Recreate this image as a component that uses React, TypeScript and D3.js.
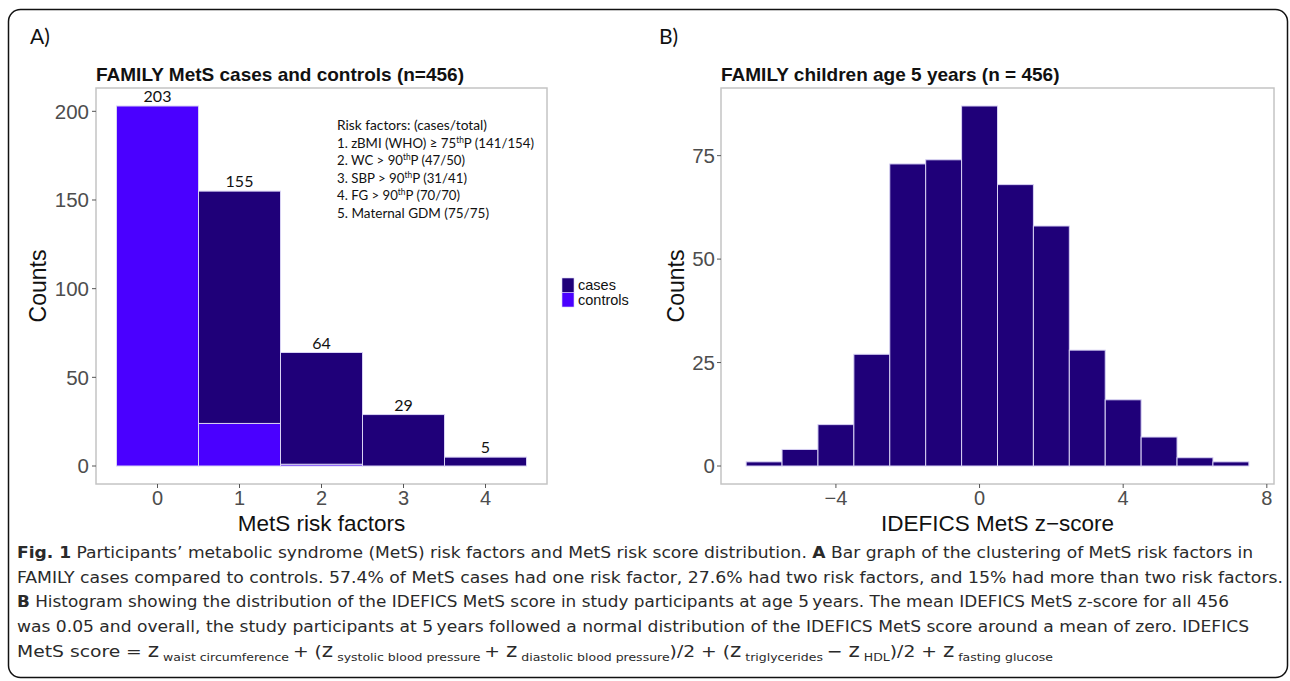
import React, { useEffect, useRef } from "react";
import * as d3 from "d3";

// panel A: MetS risk factor counts, stacked cases/controls
const riskFactors = [0, 1, 2, 3, 4];
const casesCounts = [0, 131, 63, 29, 5];
const controlsCounts = [203, 24, 1, 0, 0];
const riskTicks = [0, 1, 2, 3, 4];
const countTicksA = [0, 50, 100, 150, 200];

// panel B: histogram of IDEFICS MetS z-score, bins of width 1
const zBinCenters = [-6, -5, -4, -3, -2, -1, 0, 1, 2, 3, 4, 5, 6, 7];
const zCounts = [1, 4, 10, 27, 73, 74, 87, 68, 58, 28, 16, 7, 2, 1];
const zTicks = [-4, 0, 4, 8];
const countTicksB = [0, 25, 50, 75];

const riskLines = [
  ["Risk factors: (cases/total)", "", ""],
  ["1. zBMI (WHO) \u2265 75", "th", "P (141/154)"],
  ["2. WC > 90", "th", "P (47/50)"],
  ["3. SBP > 90", "th", "P (31/41)"],
  ["4. FG > 90", "th", "P (70/70)"],
  ["5. Maternal GDM (75/75)", "", ""],
];
const riskLineWidths = [150, 197, 128, 130, 123, 152];

const CASES = "#1f0079";
const CONTROLS = "#4a00ff";
const EDGE = "#d8d2f4";
const GRAYTXT = "#4d4d4d";
const BORDER = "#c4c4c4";

export default function App() {
  const ref = useRef<SVGSVGElement>(null);

  useEffect(() => {
    const svg = d3.select(ref.current);
    svg.selectAll("*").remove();

    // outer frame
    svg.append("rect").attr("x", 8.5).attr("y", 9.5).attr("width", 1279).attr("height", 668)
      .attr("rx", 12).attr("fill", "none").attr("stroke", "#111").attr("stroke-width", 1.5);

    svg.append("text").attr("x", 30).attr("y", 44).text("A)")
      .attr("font-family", "Lato, sans-serif").attr("font-size", 21).attr("fill", "#111");
    svg.append("text").attr("x", 659).attr("y", 44).text("B)")
      .attr("font-family", "Lato, sans-serif").attr("font-size", 21).attr("fill", "#111");

    const font = "'Liberation Sans', Arial, sans-serif";

    // ---------- panel A ----------
    const A = { left: 96, right: 547, top: 88, bottom: 484 };
    const xA = d3.scaleLinear().domain([-0.75, 4.75]).range([A.left, A.right]);
    const yA = d3.scaleLinear().domain([-10.15, 213.15]).range([A.bottom, A.top]);

    const tableA = riskFactors.map((r, i) => ({ r, cases: casesCounts[i], controls: controlsCounts[i] }));
    const stacked = d3.stack<any>().keys(["controls", "cases"])(tableA);

    const gA = svg.append("g");
    gA.append("rect").attr("x", A.left).attr("y", A.top).attr("width", A.right - A.left)
      .attr("height", A.bottom - A.top).attr("fill", "white");

    stacked.forEach(layer => {
      gA.selectAll(null).data(layer.filter(d => d[1] - d[0] > 0)).join("rect")
        .attr("x", d => xA(d.data.r - 0.5))
        .attr("width", d => xA(d.data.r + 0.5) - xA(d.data.r - 0.5))
        .attr("y", d => yA(d[1]))
        .attr("height", d => yA(d[0]) - yA(d[1]))
        .attr("fill", layer.key === "cases" ? CASES : CONTROLS)
        .attr("stroke", EDGE).attr("stroke-width", 1);
    });

    gA.selectAll(".bar-label").data(tableA).join("text").attr("class", "bar-label")
      .attr("x", d => xA(d.r)).attr("y", d => yA(d.cases + d.controls) - 4)
      .attr("text-anchor", "middle").attr("font-family", "Lato, sans-serif")
      .attr("font-size", 16).attr("fill", "#111")
      .text(d => d.cases + d.controls);

    gA.append("rect").attr("x", A.left).attr("y", A.top).attr("width", A.right - A.left)
      .attr("height", A.bottom - A.top).attr("fill", "none").attr("stroke", BORDER).attr("stroke-width", 1.5);

    const axA = gA.append("g");
    axA.selectAll(".yt").data(countTicksA).join("line").attr("class", "yt")
      .attr("x1", A.left - 4).attr("x2", A.left).attr("y1", d => yA(d)).attr("y2", d => yA(d))
      .attr("stroke", "#555");
    axA.selectAll(".yl").data(countTicksA).join("text").attr("class", "yl")
      .attr("x", A.left - 7).attr("y", d => yA(d)).attr("dy", "0.36em").attr("text-anchor", "end")
      .attr("font-family", font).attr("font-size", 20.5).attr("fill", GRAYTXT).text(d => d);
    axA.selectAll(".xt").data(riskTicks).join("line").attr("class", "xt")
      .attr("x1", d => xA(d)).attr("x2", d => xA(d)).attr("y1", A.bottom).attr("y2", A.bottom + 4)
      .attr("stroke", "#555");
    axA.selectAll(".xl").data(riskTicks).join("text").attr("class", "xl")
      .attr("x", d => xA(d)).attr("y", 505).attr("text-anchor", "middle")
      .attr("font-family", font).attr("font-size", 20).attr("fill", GRAYTXT).text(d => d);

    svg.append("text").attr("x", A.left).attr("y", 81).text("FAMILY MetS cases and controls (n=456)")
      .attr("font-family", font).attr("font-weight", "bold").attr("font-size", 19).attr("fill", "#111");
    svg.append("text").attr("x", (A.left + A.right) / 2).attr("y", 531).attr("text-anchor", "middle")
      .text("MetS risk factors").attr("font-family", font).attr("font-size", 22.5).attr("fill", "#111");
    svg.append("text").attr("transform", `translate(46, ${(A.top + A.bottom) / 2}) rotate(-90)`)
      .attr("text-anchor", "middle").text("Counts")
      .attr("font-family", font).attr("font-size", 23).attr("fill", "#111");

    // risk factor note
    riskLines.forEach((ln, i) => {
      const t = svg.append("text").attr("x", 337).attr("y", 130 + i * 17.6)
        .attr("font-family", "Lato, sans-serif").attr("font-size", 13.5).attr("fill", "#111")
        .attr("textLength", riskLineWidths[i]).attr("lengthAdjust", "spacingAndGlyphs");
      t.append("tspan").text(ln[0]);
      if (ln[1]) {
        t.append("tspan").attr("font-size", 8.5).attr("dy", -5).text(ln[1]);
        t.append("tspan").attr("dy", 5).text(ln[2]);
      }
    });

    // legend
    const leg = svg.append("g").attr("transform", "translate(562, 278)");
    [["cases", CASES], ["controls", CONTROLS]].forEach(([lab, col], i) => {
      leg.append("rect").attr("x", 0).attr("y", i * 14.5).attr("width", 12).attr("height", 14.5)
        .attr("fill", col).attr("stroke", EDGE).attr("stroke-width", 0.6);
      leg.append("text").attr("x", 16).attr("y", i * 14.5 + 12).text(lab)
        .attr("font-family", font).attr("font-size", 14.5).attr("fill", "#111");
    });

    // ---------- panel B ----------
    const B = { left: 721, right: 1274, top: 88, bottom: 484 };
    const xB = d3.scaleLinear().domain([-7.2, 8.2]).range([B.left, B.right]);
    const yB = d3.scaleLinear().domain([-4.35, 91.35]).range([B.bottom, B.top]);
    const gB = svg.append("g");

    const tableB = zBinCenters.map((c, i) => ({ c, n: zCounts[i] }));
    gB.selectAll("rect.bin").data(tableB).join("rect").attr("class", "bin")
      .attr("x", d => xB(d.c - 0.5)).attr("width", d => xB(d.c + 0.5) - xB(d.c - 0.5))
      .attr("y", d => yB(d.n)).attr("height", d => yB(0) - yB(d.n))
      .attr("fill", CASES).attr("stroke", EDGE).attr("stroke-width", 1);

    gB.append("rect").attr("x", B.left).attr("y", B.top).attr("width", B.right - B.left)
      .attr("height", B.bottom - B.top).attr("fill", "none").attr("stroke", BORDER).attr("stroke-width", 1.5);

    gB.selectAll(".yt").data(countTicksB).join("line").attr("class", "yt")
      .attr("x1", B.left - 4).attr("x2", B.left).attr("y1", d => yB(d)).attr("y2", d => yB(d))
      .attr("stroke", "#555");
    gB.selectAll(".yl").data(countTicksB).join("text").attr("class", "yl")
      .attr("x", B.left - 6).attr("y", d => yB(d)).attr("dy", "0.36em").attr("text-anchor", "end")
      .attr("font-family", font).attr("font-size", 20.5).attr("fill", GRAYTXT).text(d => d);
    gB.selectAll(".xt").data(zTicks).join("line").attr("class", "xt")
      .attr("x1", d => xB(d)).attr("x2", d => xB(d)).attr("y1", B.bottom).attr("y2", B.bottom + 4)
      .attr("stroke", "#555");
    gB.selectAll(".xl").data(zTicks).join("text").attr("class", "xl")
      .attr("x", d => xB(d)).attr("y", 505).attr("text-anchor", "middle")
      .attr("font-family", font).attr("font-size", 20).attr("fill", GRAYTXT)
      .text(d => (d < 0 ? "\u2212" + Math.abs(d) : String(d)));

    svg.append("text").attr("x", B.left).attr("y", 81).text("FAMILY children age 5 years (n = 456)")
      .attr("font-family", font).attr("font-weight", "bold").attr("font-size", 19).attr("fill", "#111");
    svg.append("text").attr("x", (B.left + B.right) / 2).attr("y", 531).attr("text-anchor", "middle")
      .text("IDEFICS MetS z\u2212score").attr("font-family", font).attr("font-size", 22.5).attr("fill", "#111");
    svg.append("text").attr("transform", `translate(684, ${(B.top + B.bottom) / 2}) rotate(-90)`)
      .attr("text-anchor", "middle").text("Counts")
      .attr("font-family", font).attr("font-size", 23).attr("fill", "#111");

    // ---------- caption ----------
    const capFont = "'Liberation Sans Narrow', 'DejaVu Sans Condensed', 'Roboto', sans-serif";
    const capX = 17;
    const capY = [558, 583, 607, 632, 657];
    const capW = [1236, 1266, 1212, 1232, 1036];
    const cap = (i: number) => svg.append("text").attr("x", capX).attr("y", capY[i])
      .attr("font-family", capFont).attr("font-size", 16.5).attr("fill", "#2a2a2a")
      .attr("textLength", capW[i]).attr("lengthAdjust", "spacingAndGlyphs");

    let t = cap(0);
    t.append("tspan").attr("font-weight", "bold").text("Fig. 1");
    t.append("tspan").text(" Participants\u2019 metabolic syndrome (MetS) risk factors and MetS risk score distribution. ");
    t.append("tspan").attr("font-weight", "bold").text("A");
    t.append("tspan").text(" Bar graph of the clustering of MetS risk factors in");

    cap(1).text("FAMILY cases compared to controls. 57.4% of MetS cases had one risk factor, 27.6% had two risk factors, and 15% had more than two risk factors.");

    t = cap(2);
    t.append("tspan").attr("font-weight", "bold").text("B");
    t.append("tspan").text(" Histogram showing the distribution of the IDEFICS MetS score in study participants at age 5\u2009years. The mean IDEFICS MetS z-score for all 456");

    cap(3).text("was 0.05 and overall, the study participants at 5\u2009years followed a normal distribution of the IDEFICS MetS score around a mean of zero. IDEFICS");

    t = cap(4);
    const sub = (s: string) => {
      t.append("tspan").attr("font-size", 11).attr("dy", 4).text(s);
    };
    const main = (s: string) => {
      t.append("tspan").attr("dy", -4).text(s);
    };
    t.append("tspan").text("MetS score = ");
    t.append("tspan").attr("font-size", 19).text("z");
    sub(" waist circumference ");
    main("+ (");
    t.append("tspan").attr("font-size", 19).text("z");
    sub(" systolic blood pressure ");
    main("+ ");
    t.append("tspan").attr("font-size", 19).text("z");
    sub(" diastolic blood pressure");
    main(")/2 + (");
    t.append("tspan").attr("font-size", 19).text("z");
    sub(" triglycerides ");
    main("\u2212 ");
    t.append("tspan").attr("font-size", 19).text("z");
    sub(" HDL");
    main(")/2 + ");
    t.append("tspan").attr("font-size", 19).text("z");
    sub(" fasting glucose");
  }, []);

  return (
    <svg ref={ref} width={1290} height={681}
      style={{ position: "absolute", left: 0, top: 0, background: "white" }} />
  );
}
